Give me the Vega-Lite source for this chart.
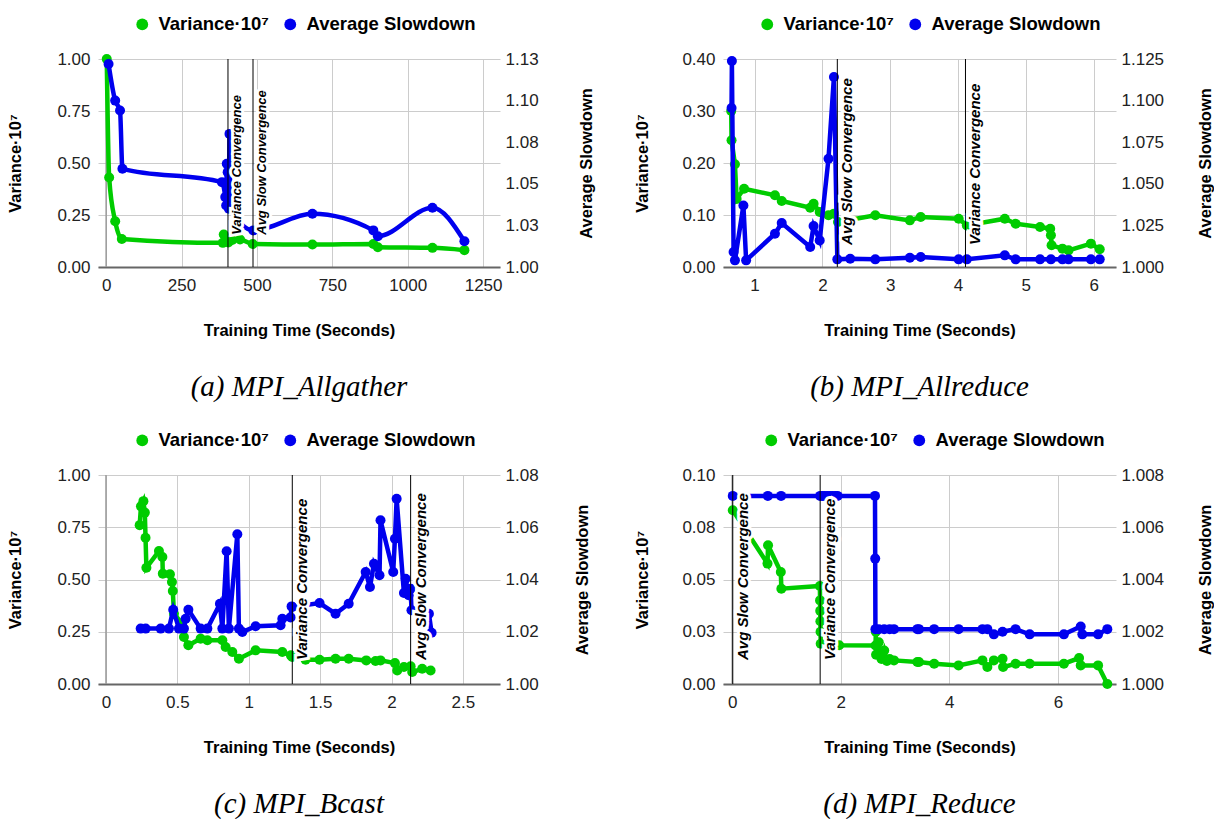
{
  "$schema": "https://vega.github.io/schema/vega-lite/v6.json",
  "padding": {"left": 7, "top": 15, "right": 0, "bottom": 0},
  "autosize": {"type": "pad"},
  "background": "white",
  "columns": 2,
  "spacing": {"row": 208, "column": 223},
  "bounds": "flush",
  "resolve": {"scale": {"color": "independent"}, "legend": {"color": "independent"}},
  "config": {
    "font": "Liberation Sans",
    "view": {"stroke": null},
    "axis": {"grid": true, "gridColor": "#cccccc", "gridWidth": 1, "ticks": false, "tickSize": 0, "domain": false, "labelFont": "Liberation Sans", "labelFontSize": 17, "labelColor": "#222222", "titleFont": "Liberation Sans", "titleFontSize": 16.5, "titleFontWeight": "bold", "titleColor": "#000000", "labelFlush": false, "labelOverlap": false},
    "axisX": {"domain": true, "domainColor": "#666666", "domainWidth": 2, "labelPadding": 10, "titlePadding": 29},
    "axisY": {"labelPadding": 8, "titlePadding": 33},
    "legend": {"labelLimit": 400},
    "title": {"orient": "bottom", "font": "Liberation Serif", "fontSize": 29, "fontStyle": "italic", "fontWeight": "normal", "color": "#000000", "offset": 34, "anchor": "middle", "frame": "group"}
  },
  "datasets": {
    "a_var": [{"x":2,"v":1.0},{"x":10,"v":0.43},{"x":30,"v":0.22},{"x":52,"v":0.135},{"x":387,"v":0.116},{"x":390,"v":0.156},{"x":396,"v":0.125},{"x":405,"v":0.118},{"x":418,"v":0.13},{"x":444,"v":0.132},{"x":486,"v":0.111},{"x":684,"v":0.108},{"x":886,"v":0.111},{"x":901,"v":0.095},{"x":1082,"v":0.092},{"x":1188,"v":0.081}],
    "a_slow": [{"x":8,"s":1.122},{"x":30,"s":1.100},{"x":46,"s":1.094},{"x":54,"s":1.059},{"x":384,"s":1.051},{"x":395,"s":1.042},{"x":398,"s":1.037},{"x":400,"s":1.062},{"x":403,"s":1.057},{"x":405,"s":1.038},{"x":407,"s":1.035},{"x":409,"s":1.080},{"x":412,"s":1.036},{"x":488,"s":1.022},{"x":684,"s":1.032},{"x":886,"s":1.022},{"x":901,"s":1.0185},{"x":1082,"s":1.0356},{"x":1188,"s":1.0155}],
    "a_conv": [{"x":404,"label":"Variance Convergence"},{"x":487,"label":"Avg Slow Convergence"}],
    "b_var": [{"x":0.655,"v":0.30},{"x":0.66,"v":0.2436},{"x":0.71,"v":0.1975},{"x":0.735,"v":0.131},{"x":0.845,"v":0.1506},{"x":1.30,"v":0.1379},{"x":1.40,"v":0.127},{"x":1.82,"v":0.114},{"x":1.87,"v":0.1217},{"x":1.96,"v":0.1058},{"x":2.09,"v":0.0994},{"x":2.17,"v":0.1026},{"x":2.23,"v":0.0865},{"x":2.78,"v":0.0994},{"x":3.29,"v":0.0897},{"x":3.45,"v":0.0962},{"x":4.01,"v":0.0929},{"x":4.13,"v":0.080},{"x":4.69,"v":0.0929},{"x":4.85,"v":0.0833},{"x":5.21,"v":0.0769},{"x":5.36,"v":0.0737},{"x":5.37,"v":0.061},{"x":5.38,"v":0.0417},{"x":5.54,"v":0.0353},{"x":5.63,"v":0.032},{"x":5.96,"v":0.0449},{"x":6.09,"v":0.034}],
    "b_slow": [{"x":0.66,"s":1.0955},{"x":0.665,"s":1.1238},{"x":0.69,"s":1.009},{"x":0.71,"s":1.004},{"x":0.835,"s":1.037},{"x":0.875,"s":1.004},{"x":1.30,"s":1.020},{"x":1.40,"s":1.0264},{"x":1.82,"s":1.012},{"x":1.87,"s":1.0246},{"x":1.96,"s":1.016},{"x":2.09,"s":1.0651},{"x":2.17,"s":1.1142},{"x":2.22,"s":1.0046},{"x":2.41,"s":1.005},{"x":2.78,"s":1.0046},{"x":3.29,"s":1.0056},{"x":3.45,"s":1.006},{"x":4.01,"s":1.0046},{"x":4.13,"s":1.0046},{"x":4.69,"s":1.007},{"x":4.85,"s":1.0046},{"x":5.21,"s":1.0046},{"x":5.37,"s":1.0046},{"x":5.54,"s":1.0046},{"x":5.63,"s":1.0046},{"x":5.96,"s":1.0046},{"x":6.09,"s":1.0046}],
    "b_conv": [{"x":2.22,"label":"Avg Slow Convergence"},{"x":4.11,"label":"Variance Convergence"}],
    "c_var": [{"x":0.236,"v":0.76},{"x":0.245,"v":0.85},{"x":0.262,"v":0.875},{"x":0.272,"v":0.82},{"x":0.277,"v":0.70},{"x":0.283,"v":0.556},{"x":0.371,"v":0.636},{"x":0.395,"v":0.608},{"x":0.398,"v":0.528},{"x":0.448,"v":0.525},{"x":0.462,"v":0.488},{"x":0.468,"v":0.445},{"x":0.476,"v":0.336},{"x":0.534,"v":0.289},{"x":0.546,"v":0.225},{"x":0.577,"v":0.185},{"x":0.663,"v":0.217},{"x":0.71,"v":0.209},{"x":0.815,"v":0.209},{"x":0.838,"v":0.177},{"x":0.885,"v":0.153},{"x":0.931,"v":0.121},{"x":1.048,"v":0.161},{"x":1.235,"v":0.153},{"x":1.295,"v":0.137},{"x":1.305,"v":0.129},{"x":1.398,"v":0.116},{"x":1.496,"v":0.116},{"x":1.608,"v":0.121},{"x":1.70,"v":0.121},{"x":1.823,"v":0.113},{"x":1.888,"v":0.11},{"x":1.923,"v":0.113},{"x":2.024,"v":0.10},{"x":2.04,"v":0.065},{"x":2.087,"v":0.081},{"x":2.134,"v":0.085},{"x":2.145,"v":0.057},{"x":2.215,"v":0.073},{"x":2.274,"v":0.065}],
    "c_slow": [{"x":0.243,"s":1.0212},{"x":0.278,"s":1.0212},{"x":0.383,"s":1.0212},{"x":0.441,"s":1.0212},{"x":0.471,"s":1.0284},{"x":0.511,"s":1.0212},{"x":0.546,"s":1.0212},{"x":0.558,"s":1.025},{"x":0.577,"s":1.0284},{"x":0.663,"s":1.0212},{"x":0.71,"s":1.0212},{"x":0.798,"s":1.0307},{"x":0.815,"s":1.0212},{"x":0.845,"s":1.0508},{"x":0.861,"s":1.0212},{"x":0.92,"s":1.0573},{"x":0.931,"s":1.0212},{"x":0.955,"s":1.0199},{"x":1.048,"s":1.0221},{"x":1.223,"s":1.0225},{"x":1.235,"s":1.025},{"x":1.293,"s":1.0255},{"x":1.300,"s":1.0297},{"x":1.305,"s":1.0295},{"x":1.496,"s":1.031},{"x":1.608,"s":1.0269},{"x":1.70,"s":1.0307},{"x":1.819,"s":1.0429},{"x":1.849,"s":1.0371},{"x":1.877,"s":1.046},{"x":1.916,"s":1.0416},{"x":1.923,"s":1.0627},{"x":2.012,"s":1.0429},{"x":2.024,"s":1.0556},{"x":2.036,"s":1.0709},{"x":2.087,"s":1.0348},{"x":2.099,"s":1.0403},{"x":2.12,"s":1.034},{"x":2.134,"s":1.0365},{"x":2.14,"s":1.0282},{"x":2.262,"s":1.0269},{"x":2.281,"s":1.0196}],
    "c_conv": [{"x":1.305,"label":"Variance Convergence"},{"x":2.134,"label":"Avg Slow Convergence"}],
    "d_var": [{"x":0.01,"v":0.0831},{"x":0.65,"v":0.0576},{"x":0.66,"v":0.0664},{"x":0.895,"v":0.0536},{"x":0.905,"v":0.0456},{"x":1.615,"v":0.0469},{"x":1.618,"v":0.040},{"x":1.621,"v":0.035},{"x":1.624,"v":0.030},{"x":1.627,"v":0.025},{"x":1.63,"v":0.0193},{"x":1.97,"v":0.0185},{"x":2.64,"v":0.0184},{"x":2.645,"v":0.025},{"x":2.65,"v":0.014},{"x":2.7,"v":0.02},{"x":2.75,"v":0.012},{"x":2.8,"v":0.016},{"x":2.85,"v":0.011},{"x":2.9,"v":0.012},{"x":2.98,"v":0.0113},{"x":3.41,"v":0.0105},{"x":3.44,"v":0.0105},{"x":3.72,"v":0.0097},{"x":4.17,"v":0.0089},{"x":4.61,"v":0.0113},{"x":4.7,"v":0.0081},{"x":4.82,"v":0.0113},{"x":4.98,"v":0.0121},{"x":4.99,"v":0.0081},{"x":5.22,"v":0.0097},{"x":5.48,"v":0.0097},{"x":6.11,"v":0.0097},{"x":6.39,"v":0.0124},{"x":6.42,"v":0.0089},{"x":6.74,"v":0.0089},{"x":6.91,"v":0.0}],
    "d_slow": [{"x":0.01,"s":1.0072},{"x":0.656,"s":1.0072},{"x":0.90,"s":1.0072},{"x":1.62,"s":1.0072},{"x":1.66,"s":1.0072},{"x":1.7,"s":1.0072},{"x":1.75,"s":1.0072},{"x":1.8,"s":1.0072},{"x":1.85,"s":1.0072},{"x":1.9,"s":1.0072},{"x":1.94,"s":1.0072},{"x":2.63,"s":1.0072},{"x":2.634,"s":1.0048},{"x":2.638,"s":1.0021},{"x":2.7,"s":1.0021},{"x":2.8,"s":1.0021},{"x":2.9,"s":1.0021},{"x":2.98,"s":1.0021},{"x":3.41,"s":1.0021},{"x":3.44,"s":1.0021},{"x":3.72,"s":1.0021},{"x":4.17,"s":1.0021},{"x":4.61,"s":1.0021},{"x":4.7,"s":1.0021},{"x":4.82,"s":1.0019},{"x":4.98,"s":1.002},{"x":5.22,"s":1.0021},{"x":5.48,"s":1.0019},{"x":6.11,"s":1.0019},{"x":6.42,"s":1.0022},{"x":6.45,"s":1.0019},{"x":6.74,"s":1.0019},{"x":6.91,"s":1.0021}],
    "d_conv": [{"x":0.01,"label":"Avg Slow Convergence"},{"x":1.62,"label":"Variance Convergence"}]
  },
  "concat": [
    {
      "width": 402, "height": 208,
      "title": {"text": "(a) MPI_Allgather"},
      "layer": [
        {"layer": [
          {"data": {"values": [{}]}, "mark": {"type": "rule", "color": "#999999", "strokeWidth": 1.5}, "encoding": {"x": {"datum": 0, "type": "quantitative"}}},
          {"data": {"name": "a_var"}, "mark": {"type": "line", "color": "#00cc00", "strokeWidth": 4.5, "interpolate": "monotone"},
           "encoding": {"x": {"field": "x", "type": "quantitative", "scale": {"domain": [-27, 1306], "nice": false, "zero": false}, "axis": {"values": [0, 250, 500, 750, 1000, 1250], "format": "d"}, "title": "Training Time (Seconds)"},
                        "y": {"field": "v", "type": "quantitative", "scale": {"domain": [0, 1], "nice": false, "zero": false}, "axis": {"values": [0, 0.25, 0.5, 0.75, 1], "format": ".2f", "orient": "left"}, "title": "Variance·10⁷"}}},
          {"data": {"name": "a_var"}, "mark": {"type": "point", "filled": true, "size": 100, "opacity": 1},
           "encoding": {"x": {"field": "x", "type": "quantitative", "title": "Training Time (Seconds)"}, "y": {"field": "v", "type": "quantitative", "title": "Variance·10⁷"},
                        "color": {"datum": "Variance·10⁷", "scale": {"domain": ["Variance·10⁷", "Average Slowdown"], "range": ["#00cc00", "#0000ee"]},
                                  "legend": {"orient": "none", "legendX": 35, "legendY": -44, "direction": "horizontal", "title": null, "symbolType": "circle", "symbolSize": 140, "symbolStrokeWidth": 0, "labelFont": "Liberation Sans", "labelFontSize": 18.5, "labelFontWeight": "bold", "labelColor": "#000000", "labelLimit": 400, "columnPadding": 12, "labelOffset": 7, "padding": 0}}}}
        ]},
        {"layer": [
          {"data": {"name": "a_slow"}, "mark": {"type": "line", "color": "#0000ee", "strokeWidth": 4.5, "interpolate": "monotone"},
           "encoding": {"x": {"field": "x", "type": "quantitative", "title": "Training Time (Seconds)"},
                        "y": {"field": "s", "type": "quantitative", "scale": {"domain": [1, 1.125], "nice": false, "zero": false}, "axis": {"values": [1, 1.0250001, 1.05, 1.0750001, 1.1, 1.125], "format": ".2f", "orient": "right", "grid": false, "labelPadding": 5, "titlePadding": 40, "titleAngle": 270, "titleBaseline": "top"}, "title": "Average Slowdown"}}},
          {"data": {"name": "a_slow"}, "mark": {"type": "point", "filled": true, "size": 100, "opacity": 1},
           "encoding": {"x": {"field": "x", "type": "quantitative", "title": "Training Time (Seconds)"}, "y": {"field": "s", "type": "quantitative", "title": "Average Slowdown"},
                        "color": {"datum": "Average Slowdown", "scale": {"domain": ["Variance·10⁷", "Average Slowdown"], "range": ["#00cc00", "#0000ee"]}}}}
        ]},
        {"layer": [
          {"data": {"name": "a_conv"}, "mark": {"type": "rule", "color": "#000000", "strokeWidth": 1}, "encoding": {"x": {"field": "x", "type": "quantitative"}}},
          {"data": {"name": "a_conv"}, "mark": {"type": "text", "angle": 270, "align": "left", "baseline": "top", "dy": 3, "font": "Liberation Sans", "fontSize": 13, "fontWeight": "bold", "fontStyle": "italic", "fill": "#ffffff", "stroke": "#ffffff", "strokeWidth": 6},
           "encoding": {"x": {"field": "x", "type": "quantitative"}, "y": {"datum": 0.155, "type": "quantitative", "scale": {"domain": [0, 1], "nice": false, "zero": false}, "axis": null}, "text": {"field": "label"}}},
          {"data": {"name": "a_conv"}, "mark": {"type": "text", "angle": 270, "align": "left", "baseline": "top", "dy": 3, "font": "Liberation Sans", "fontSize": 13, "fontWeight": "bold", "fontStyle": "italic", "fill": "#000000"},
           "encoding": {"x": {"field": "x", "type": "quantitative"}, "y": {"datum": 0.155, "type": "quantitative"}, "text": {"field": "label"}}}
        ]}
      ],
      "resolve": {"scale": {"y": "independent"}}
    },
    {
      "width": 393, "height": 208,
      "title": {"text": "(b) MPI_Allreduce"},
      "layer": [
        {"layer": [
          {"data": {"name": "b_var"}, "mark": {"type": "line", "color": "#00cc00", "strokeWidth": 4.5},
           "encoding": {"x": {"field": "x", "type": "quantitative", "scale": {"domain": [0.534, 6.33], "nice": false, "zero": false}, "axis": {"values": [1, 2, 3, 4, 5, 6], "format": "d"}, "title": "Training Time (Seconds)"},
                        "y": {"field": "v", "type": "quantitative", "scale": {"domain": [0, 0.4], "nice": false, "zero": false}, "axis": {"values": [0, 0.1, 0.2, 0.3, 0.4], "format": ".2f", "orient": "left", "titlePadding": 31}, "title": "Variance·10⁷"}}},
          {"data": {"name": "b_var"}, "mark": {"type": "point", "filled": true, "size": 100, "opacity": 1},
           "encoding": {"x": {"field": "x", "type": "quantitative", "title": "Training Time (Seconds)"}, "y": {"field": "v", "type": "quantitative", "title": "Variance·10⁷"},
                        "color": {"datum": "Variance·10⁷", "scale": {"domain": ["Variance·10⁷", "Average Slowdown"], "range": ["#00cc00", "#0000ee"]},
                                  "legend": {"orient": "none", "legendX": 35, "legendY": -44, "direction": "horizontal", "title": null, "symbolType": "circle", "symbolSize": 140, "symbolStrokeWidth": 0, "labelFont": "Liberation Sans", "labelFontSize": 18.5, "labelFontWeight": "bold", "labelColor": "#000000", "labelLimit": 400, "columnPadding": 12, "labelOffset": 7, "padding": 0}}}}
        ]},
        {"layer": [
          {"data": {"name": "b_slow"}, "mark": {"type": "line", "color": "#0000ee", "strokeWidth": 4.5},
           "encoding": {"x": {"field": "x", "type": "quantitative", "title": "Training Time (Seconds)"},
                        "y": {"field": "s", "type": "quantitative", "scale": {"domain": [1, 1.125], "nice": false, "zero": false}, "axis": {"values": [1, 1.025, 1.05, 1.075, 1.1, 1.125], "format": ".3f", "orient": "right", "grid": false, "labelPadding": 5, "titlePadding": 34, "titleAngle": 270, "titleBaseline": "top"}, "title": "Average Slowdown"}}},
          {"data": {"name": "b_slow"}, "mark": {"type": "point", "filled": true, "size": 100, "opacity": 1},
           "encoding": {"x": {"field": "x", "type": "quantitative", "title": "Training Time (Seconds)"}, "y": {"field": "s", "type": "quantitative", "title": "Average Slowdown"},
                        "color": {"datum": "Average Slowdown", "scale": {"domain": ["Variance·10⁷", "Average Slowdown"], "range": ["#00cc00", "#0000ee"]}}}}
        ]},
        {"layer": [
          {"data": {"name": "b_conv"}, "mark": {"type": "rule", "color": "#000000", "strokeWidth": 1}, "encoding": {"x": {"field": "x", "type": "quantitative"}}},
          {"data": {"name": "b_conv"}, "mark": {"type": "text", "angle": 270, "align": "left", "baseline": "top", "dy": 3, "font": "Liberation Sans", "fontSize": 15, "fontWeight": "bold", "fontStyle": "italic", "fill": "#ffffff", "stroke": "#ffffff", "strokeWidth": 6},
           "encoding": {"x": {"field": "x", "type": "quantitative"}, "y": {"datum": 0.106, "type": "quantitative", "scale": {"domain": [0, 1], "nice": false, "zero": false}, "axis": null}, "text": {"field": "label"}}},
          {"data": {"name": "b_conv"}, "mark": {"type": "text", "angle": 270, "align": "left", "baseline": "top", "dy": 3, "font": "Liberation Sans", "fontSize": 15, "fontWeight": "bold", "fontStyle": "italic", "fill": "#000000"},
           "encoding": {"x": {"field": "x", "type": "quantitative"}, "y": {"datum": 0.106, "type": "quantitative"}, "text": {"field": "label"}}}
        ]}
      ],
      "resolve": {"scale": {"y": "independent"}}
    },
    {
      "width": 402, "height": 209,
      "title": {"text": "(c) MPI_Bcast"},
      "layer": [
        {"layer": [
          {"data": {"values": [{}]}, "mark": {"type": "rule", "color": "#999999", "strokeWidth": 1.5}, "encoding": {"x": {"datum": 0, "type": "quantitative"}}},
          {"data": {"name": "c_var"}, "mark": {"type": "line", "color": "#00cc00", "strokeWidth": 4.5},
           "encoding": {"x": {"field": "x", "type": "quantitative", "scale": {"domain": [-0.056, 2.76], "nice": false, "zero": false}, "axis": {"values": [0, 0.5, 1, 1.5, 2, 2.5], "format": "~g"}, "title": "Training Time (Seconds)"},
                        "y": {"field": "v", "type": "quantitative", "scale": {"domain": [0, 1], "nice": false, "zero": false}, "axis": {"values": [0, 0.25, 0.5, 0.75, 1], "format": ".2f", "orient": "left"}, "title": "Variance·10⁷"}}},
          {"data": {"name": "c_var"}, "mark": {"type": "point", "filled": true, "size": 100, "opacity": 1},
           "encoding": {"x": {"field": "x", "type": "quantitative", "title": "Training Time (Seconds)"}, "y": {"field": "v", "type": "quantitative", "title": "Variance·10⁷"},
                        "color": {"datum": "Variance·10⁷", "scale": {"domain": ["Variance·10⁷", "Average Slowdown"], "range": ["#00cc00", "#0000ee"]},
                                  "legend": {"orient": "none", "legendX": 35, "legendY": -44, "direction": "horizontal", "title": null, "symbolType": "circle", "symbolSize": 140, "symbolStrokeWidth": 0, "labelFont": "Liberation Sans", "labelFontSize": 18.5, "labelFontWeight": "bold", "labelColor": "#000000", "labelLimit": 400, "columnPadding": 12, "labelOffset": 7, "padding": 0}}}}
        ]},
        {"layer": [
          {"data": {"name": "c_slow"}, "mark": {"type": "line", "color": "#0000ee", "strokeWidth": 4.5},
           "encoding": {"x": {"field": "x", "type": "quantitative", "title": "Training Time (Seconds)"},
                        "y": {"field": "s", "type": "quantitative", "scale": {"domain": [1, 1.08], "nice": false, "zero": false}, "axis": {"values": [1, 1.02, 1.04, 1.06, 1.08], "format": ".2f", "orient": "right", "grid": false, "labelPadding": 5, "titlePadding": 36, "titleAngle": 270, "titleBaseline": "top"}, "title": "Average Slowdown"}}},
          {"data": {"name": "c_slow"}, "mark": {"type": "point", "filled": true, "size": 100, "opacity": 1},
           "encoding": {"x": {"field": "x", "type": "quantitative", "title": "Training Time (Seconds)"}, "y": {"field": "s", "type": "quantitative", "title": "Average Slowdown"},
                        "color": {"datum": "Average Slowdown", "scale": {"domain": ["Variance·10⁷", "Average Slowdown"], "range": ["#00cc00", "#0000ee"]}}}}
        ]},
        {"layer": [
          {"data": {"name": "c_conv"}, "mark": {"type": "rule", "color": "#000000", "strokeWidth": 1}, "encoding": {"x": {"field": "x", "type": "quantitative"}}},
          {"data": {"name": "c_conv"}, "mark": {"type": "text", "angle": 270, "align": "left", "baseline": "top", "dy": 3, "font": "Liberation Sans", "fontSize": 15, "fontWeight": "bold", "fontStyle": "italic", "fill": "#ffffff", "stroke": "#ffffff", "strokeWidth": 6},
           "encoding": {"x": {"field": "x", "type": "quantitative"}, "y": {"datum": 0.115, "type": "quantitative", "scale": {"domain": [0, 1], "nice": false, "zero": false}, "axis": null}, "text": {"field": "label"}}},
          {"data": {"name": "c_conv"}, "mark": {"type": "text", "angle": 270, "align": "left", "baseline": "top", "dy": 3, "font": "Liberation Sans", "fontSize": 15, "fontWeight": "bold", "fontStyle": "italic", "fill": "#000000"},
           "encoding": {"x": {"field": "x", "type": "quantitative"}, "y": {"datum": 0.115, "type": "quantitative"}, "text": {"field": "label"}}}
        ]}
      ],
      "resolve": {"scale": {"y": "independent"}}
    },
    {
      "width": 393, "height": 209,
      "title": {"text": "(d) MPI_Reduce"},
      "layer": [
        {"layer": [
          {"data": {"values": [{}]}, "mark": {"type": "rule", "color": "#999999", "strokeWidth": 1.5}, "encoding": {"x": {"datum": 0, "type": "quantitative"}}},
          {"data": {"name": "d_var"}, "mark": {"type": "line", "color": "#00cc00", "strokeWidth": 4.5},
           "encoding": {"x": {"field": "x", "type": "quantitative", "scale": {"domain": [-0.17, 7.07], "nice": false, "zero": false}, "axis": {"values": [0, 2, 4, 6], "format": "d"}, "title": "Training Time (Seconds)"},
                        "y": {"field": "v", "type": "quantitative", "scale": {"domain": [0, 0.1], "nice": false, "zero": false}, "axis": {"values": [0, 0.0250001, 0.05, 0.0750001, 0.1], "format": ".2f", "orient": "left", "titlePadding": 31}, "title": "Variance·10⁷"}}},
          {"data": {"name": "d_var"}, "mark": {"type": "point", "filled": true, "size": 100, "opacity": 1},
           "encoding": {"x": {"field": "x", "type": "quantitative", "title": "Training Time (Seconds)"}, "y": {"field": "v", "type": "quantitative", "title": "Variance·10⁷"},
                        "color": {"datum": "Variance·10⁷", "scale": {"domain": ["Variance·10⁷", "Average Slowdown"], "range": ["#00cc00", "#0000ee"]},
                                  "legend": {"orient": "none", "legendX": 39, "legendY": -44, "direction": "horizontal", "title": null, "symbolType": "circle", "symbolSize": 140, "symbolStrokeWidth": 0, "labelFont": "Liberation Sans", "labelFontSize": 18.5, "labelFontWeight": "bold", "labelColor": "#000000", "labelLimit": 400, "columnPadding": 12, "labelOffset": 7, "padding": 0}}}}
        ]},
        {"layer": [
          {"data": {"name": "d_slow"}, "mark": {"type": "line", "color": "#0000ee", "strokeWidth": 4.5},
           "encoding": {"x": {"field": "x", "type": "quantitative", "title": "Training Time (Seconds)"},
                        "y": {"field": "s", "type": "quantitative", "scale": {"domain": [1, 1.008], "nice": false, "zero": false}, "axis": {"values": [1, 1.002, 1.004, 1.006, 1.008], "format": ".3f", "orient": "right", "grid": false, "labelPadding": 5, "titlePadding": 34, "titleAngle": 270, "titleBaseline": "top"}, "title": "Average Slowdown"}}},
          {"data": {"name": "d_slow"}, "mark": {"type": "point", "filled": true, "size": 100, "opacity": 1},
           "encoding": {"x": {"field": "x", "type": "quantitative", "title": "Training Time (Seconds)"}, "y": {"field": "s", "type": "quantitative", "title": "Average Slowdown"},
                        "color": {"datum": "Average Slowdown", "scale": {"domain": ["Variance·10⁷", "Average Slowdown"], "range": ["#00cc00", "#0000ee"]}}}}
        ]},
        {"layer": [
          {"data": {"name": "d_conv"}, "mark": {"type": "rule", "color": "#000000", "strokeWidth": 1}, "encoding": {"x": {"field": "x", "type": "quantitative"}}},
          {"data": {"name": "d_conv"}, "mark": {"type": "text", "angle": 270, "align": "left", "baseline": "top", "dy": 3, "font": "Liberation Sans", "fontSize": 15, "fontWeight": "bold", "fontStyle": "italic", "fill": "#ffffff", "stroke": "#ffffff", "strokeWidth": 6},
           "encoding": {"x": {"field": "x", "type": "quantitative"}, "y": {"datum": 0.115, "type": "quantitative", "scale": {"domain": [0, 1], "nice": false, "zero": false}, "axis": null}, "text": {"field": "label"}}},
          {"data": {"name": "d_conv"}, "mark": {"type": "text", "angle": 270, "align": "left", "baseline": "top", "dy": 3, "font": "Liberation Sans", "fontSize": 15, "fontWeight": "bold", "fontStyle": "italic", "fill": "#000000"},
           "encoding": {"x": {"field": "x", "type": "quantitative"}, "y": {"datum": 0.115, "type": "quantitative"}, "text": {"field": "label"}}}
        ]}
      ],
      "resolve": {"scale": {"y": "independent"}}
    }
  ]
}
